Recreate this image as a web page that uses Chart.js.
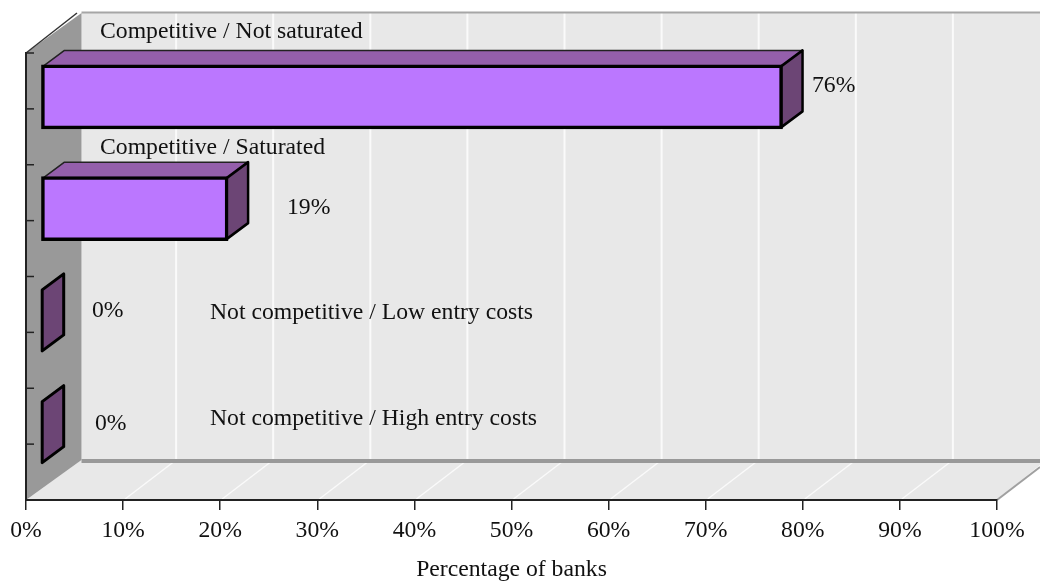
<!DOCTYPE html>
<html>
<head>
<meta charset="utf-8">
<title>Percentage of banks</title>
<script src="https://cdn.jsdelivr.net/npm/chart.js@4/dist/chart.umd.min.js"></script>
<style>
    html, body { margin: 0; padding: 0; background: #fff; }
    canvas { display: block; }
</style>
</head>
<body>
<canvas id="grafico" width="1040" height="585"></canvas>
<script>
const categorias = [
    'Competitive / Not saturated',
    'Competitive / Saturated',
    'Not competitive / Low entry costs',
    'Not competitive / High entry costs'
];
const valores = [76.4, 19.3, 0, 0];
const ticksX = [0, 10, 20, 30, 40, 50, 60, 70, 80, 90, 100];
const tituloX = 'Percentage of banks';

// donde va cada texto, en pixeles
const posCategoria = [[100, 32], [100, 148], [210, 313], [210, 419]];
const posValor = [[812, 86], [287, 208], [92, 311], [95, 424]];

const FUENTE = '"Liberation Serif", "Times New Roman", serif';
const TAM = 23.7;
const PARED = { x: 55.5, y: -40 }; // profundidad del fondo
const REJILLA = 53;                // las lineas blancas van algo antes de la pared
const BARRA = { x: 14.7, y: -12 }; // barra separada del eje
const CARA = { x: 21.5, y: -16 };  // profundidad de la barra

function poligono(ctx, puntos, relleno, borde, grosor) {
    ctx.beginPath();
    puntos.forEach((p, i) => i ? ctx.lineTo(p[0], p[1]) : ctx.moveTo(p[0], p[1]));
    ctx.closePath();
    if (relleno) { ctx.fillStyle = relleno; ctx.fill(); }
    if (borde) {
        ctx.strokeStyle = borde;
        ctx.lineWidth = grosor;
        ctx.lineJoin = 'round';
        ctx.stroke();
    }
}

function linea(ctx, x1, y1, x2, y2, color, grosor) {
    ctx.beginPath();
    ctx.moveTo(x1, y1);
    ctx.lineTo(x2, y2);
    ctx.strokeStyle = color;
    ctx.lineWidth = grosor;
    ctx.stroke();
}

const fondo3d = {
    id: 'fondo3d',
    // paredes y suelo van antes que los ejes, para no taparlos
    beforeDraw(chart) {
        const { ctx, chartArea: a, scales } = chart;
        const fondoArriba = a.top + PARED.y;
        const fondoAbajo = a.bottom + PARED.y;
        ctx.save();

        ctx.fillStyle = '#e8e8e8';
        ctx.fillRect(a.left + PARED.x, fondoArriba, 1040 - a.left - PARED.x, a.bottom - a.top);
        poligono(ctx, [[a.left, a.bottom], [a.left + PARED.x, fondoAbajo], [1040, fondoAbajo], [1040, a.bottom - 35], [a.right, a.bottom]], '#e8e8e8');

        ticksX.slice(1, -1).forEach(v => {
            const x = scales.x.getPixelForValue(v);
            linea(ctx, x + REJILLA, fondoArriba, x + REJILLA, fondoAbajo, '#fafafa', 2);
            linea(ctx, x + 2, a.bottom - 1, x + REJILLA, fondoAbajo, '#fafafa', 1.5);
        });

        // bordes grises
        linea(ctx, a.left + PARED.x, fondoArriba - 0.5, 1040, fondoArriba - 0.5, '#a6a6a6', 2);
        linea(ctx, a.left + PARED.x, fondoAbajo + 1, 1040, fondoAbajo + 1, '#999999', 4);
        linea(ctx, a.right, a.bottom, 1040, a.bottom - 33, '#a0a0a0', 2);

        // pared izquierda
        poligono(ctx, [[a.left, a.top], [a.left + PARED.x, fondoArriba], [a.left + PARED.x, fondoAbajo], [a.left, a.bottom]], '#999999');
        linea(ctx, a.left, a.top, a.left + 51, fondoArriba, '#333333', 1.5);

        // marcas del eje de categorias, en limites y centros de cada banda
        const banda = (a.bottom - a.top) / categorias.length;
        categorias.forEach((c, i) => {
            const centro = scales.y.getPixelForValue(i);
            linea(ctx, a.left, centro - banda / 2, a.left + 8, centro - banda / 2, '#222222', 1.5);
            linea(ctx, a.left, centro, a.left + 8, centro, '#222222', 1.5);
        });
        ctx.restore();
    },
    beforeDatasetsDraw(chart) {
        const { ctx } = chart;
        ctx.save();
        // caras superior y lateral de las barras
        chart.getDatasetMeta(0).data.forEach(b => {
            const p = b.getProps(['x', 'y', 'base', 'height'], true);
            const izq = p.base + BARRA.x + 1.5;
            const der = Math.max(p.x + BARRA.x - 1.5, izq);
            const arr = p.y - p.height / 2 + BARRA.y + 1.5;
            const aba = p.y + p.height / 2 + BARRA.y - 1.5;
            poligono(ctx, [[izq, arr], [izq + CARA.x, arr + CARA.y], [der + CARA.x, arr + CARA.y], [der, arr]], '#945fab', '#222222', 1.5);
            poligono(ctx, [[der, arr], [der + CARA.x, arr + CARA.y], [der + CARA.x, aba + CARA.y], [der, aba]], '#6c4575', '#000', der === izq ? 3 : 2.5);
        });
        ctx.restore();
    },
    beforeDatasetDraw(chart) {
        chart.ctx.save();
        chart.ctx.translate(BARRA.x, BARRA.y);
    },
    afterDatasetDraw(chart) {
        chart.ctx.restore();
    },
    afterDatasetsDraw(chart) {
        const { ctx } = chart;
        ctx.save();
        ctx.font = TAM + 'px ' + FUENTE;
        ctx.fillStyle = '#111111';
        ctx.textBaseline = 'middle';
        ctx.textAlign = 'left';
        categorias.forEach((c, i) => {
            ctx.fillText(c, posCategoria[i][0], posCategoria[i][1]);
            ctx.fillText(Math.round(valores[i]) + '%', posValor[i][0], posValor[i][1]);
        });
        ctx.restore();
    }
};

new Chart(document.getElementById('grafico').getContext('2d'), {
    type: 'bar',
    plugins: [fondo3d],
    data: {
        labels: categorias,
        datasets: [{
            data: valores,
            backgroundColor: '#bb77ff',
            borderColor: '#000000',
            borderWidth: 3.5,
            borderSkipped: false,
            barThickness: 64,
            clip: false
        }]
    },
    options: {
        indexAxis: 'y',
        responsive: false,
        animation: false,
        layout: { padding: { left: 0, right: 43, top: 53, bottom: 0 } },
        plugins: {
            legend: { display: false },
            tooltip: { enabled: false }
        },
        scales: {
            x: {
                min: 0,
                max: 100,
                afterFit(escala) { escala.height = 85; },
                afterBuildTicks(escala) { escala.ticks = ticksX.map(v => ({ value: v })); },
                grid: { drawOnChartArea: false, tickLength: 10, color: '#222222', lineWidth: 1.5 },
                border: { color: '#222222', width: 2 },
                ticks: {
                    color: '#111111',
                    maxRotation: 0,
                    autoSkip: false,
                    padding: 7,
                    font: { family: FUENTE, size: TAM },
                    callback: v => v + '%'
                },
                title: {
                    display: true,
                    text: tituloX,
                    color: '#111111',
                    font: { family: FUENTE, size: TAM },
                    padding: { top: 0, bottom: 1 }
                }
            },
            y: {
                afterFit(escala) { escala.width = 26; },
                grid: { display: false },
                border: { color: '#222222', width: 2 },
                ticks: { display: false }
            }
        }
    }
});
</script>
</body>
</html>
